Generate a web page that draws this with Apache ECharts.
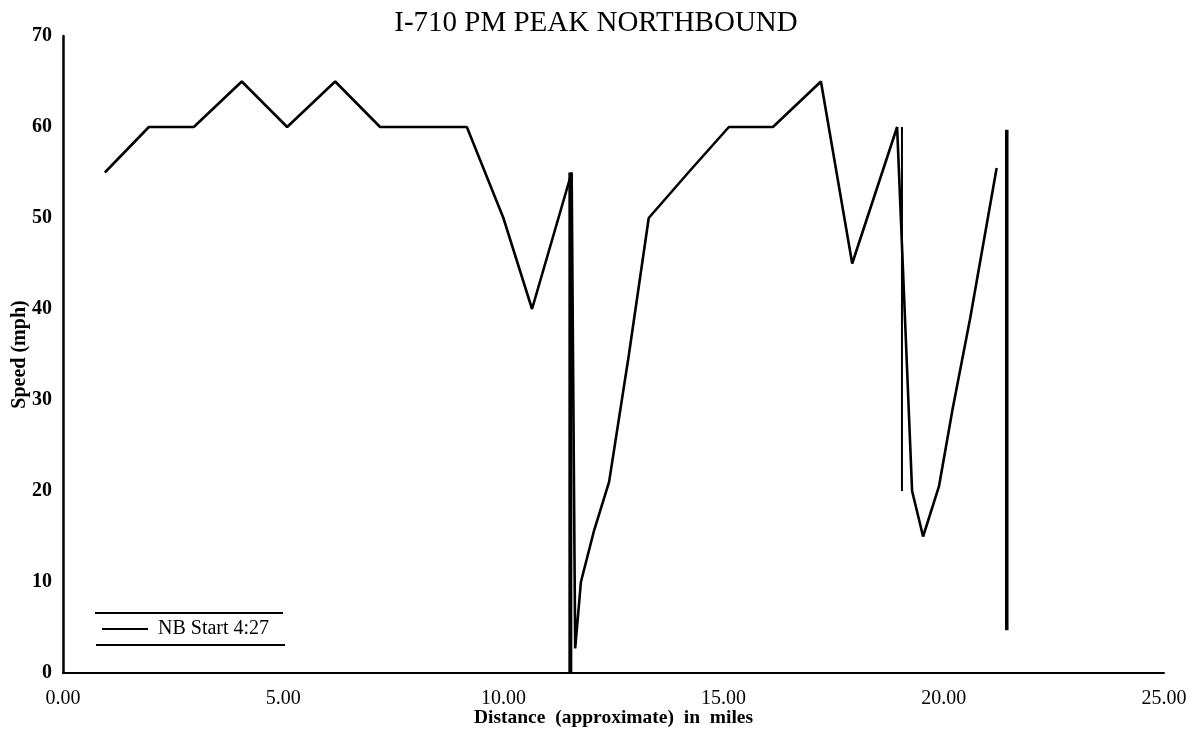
<!DOCTYPE html>
<html>
<head>
<meta charset="utf-8">
<script src="https://cdn.jsdelivr.net/npm/echarts@6/dist/echarts.min.js"></script>
<style>
html,body{margin:0;padding:0;background:#fff;}
#chart{width:1202px;height:738px;}
</style>
</head>
<body>
<div id="chart"></div>
<script>
// Main speed profile (miles, mph)
const distance = [0.95, 1.95, 2.97, 4.06, 5.09, 6.18, 7.2, 8.2, 9.17, 10.0, 10.65, 11.55, 11.63, 11.76, 12.05, 12.4, 12.85, 13.3, 14.2, 15.12, 16.12, 17.21, 17.92, 18.94, 19.28, 19.53, 19.89, 20.2, 20.6, 21.0, 21.2];
const speed    = [55,   60,   60,   65,   60,   65,   60,  60,  60,   50,   40,    55,    2.7,   10,    15.5,  21,   35,    50,   55,   60,    60,    65,    45,    60,    20,    15,    20.5,  29,   39,   50,   55.5];
// Vertical marker lines
const markerDistance = [11.52, 19.05, 21.43];
const markerLow      = [0,     20,    4.7];
const markerHigh     = [55,    60,    59.7];
const markerWidth    = [4,     2,     3.5];
// Axis ticks
const xTicks = [0, 5, 10, 15, 20, 25];
const yTicks = [0, 10, 20, 30, 40, 50, 60, 70];

const serif = '"Liberation Serif", "DejaVu Serif", serif';
const chart = echarts.init(document.getElementById('chart'));

const mainData = distance.map((d, i) => [d, speed[i]]);
const markerSeries = markerDistance.map((d, i) => ({
  type: 'line',
  name: 'marker' + i,
  data: [[d, markerLow[i]], [d, markerHigh[i]]],
  symbol: 'none',
  silent: true,
  lineStyle: { color: '#000', width: markerWidth[i] },
  z: 3
}));

chart.setOption({
  animation: false,
  backgroundColor: '#fff',
  title: {
    text: 'I-710 PM PEAK NORTHBOUND',
    left: 591, top: 4, textAlign: 'center',
    textStyle: { fontFamily: serif, fontWeight: 'normal', fontSize: 29, color: '#000' }
  },
  grid: { left: 63, right: 38, top: 36, bottom: 65, containLabel: false, outerBoundsMode: 'none' },
  legend: {
    data: [{ name: 'NB Start 4:27', icon: 'rect' }],
    left: 102, top: 619, padding: 0,
    itemWidth: 46, itemHeight: 2,
    textStyle: { fontFamily: serif, fontSize: 20, color: '#000', padding: [0, 0, 0, 5] },
    itemStyle: { color: '#000' }
  },
  graphic: [
    { type: 'line', shape: { x1: 95, y1: 613, x2: 283, y2: 613 }, style: { stroke: '#000', lineWidth: 2 } },
    { type: 'line', shape: { x1: 96, y1: 645, x2: 285, y2: 645 }, style: { stroke: '#000', lineWidth: 2 } }
  ],
  xAxis: {
    type: 'value', min: 0, max: 25, interval: 5,
    name: 'Distance  (approximate)  in  miles',
    nameLocation: 'middle', nameGap: 35, nameMoveOverlap: false,
    nameTextStyle: { fontFamily: serif, fontWeight: 'bold', fontSize: 19.5, color: '#000' },
    axisLine: { show: true, onZero: false, lineStyle: { color: '#000', width: 2 } },
    axisTick: { show: false },
    splitLine: { show: false },
    axisLabel: {
      fontFamily: serif, fontSize: 20, color: '#000', margin: 16,
      formatter: v => xTicks.includes(v) ? v.toFixed(2) : ''
    }
  },
  yAxis: {
    type: 'value', min: 0, max: 70, interval: 10,
    name: 'Speed (mph)',
    nameLocation: 'middle', nameGap: 33, nameRotate: 90, nameMoveOverlap: false,
    nameTextStyle: { fontFamily: serif, fontWeight: 'bold', fontSize: 20, color: '#000' },
    axisLine: { show: true, onZero: false, lineStyle: { color: '#000', width: 2.5 } },
    axisTick: { show: false },
    splitLine: { show: false },
    axisLabel: {
      fontFamily: serif, fontWeight: 'bold', fontSize: 20, color: '#000', margin: 11,
      formatter: v => yTicks.includes(v) ? String(v) : ''
    }
  },
  series: [
    {
      type: 'line', name: 'NB Start 4:27',
      data: mainData, symbol: 'none', showSymbol: false,
      lineStyle: { color: '#000', width: 2.6 },
      itemStyle: { color: '#000' },
      z: 4
    }
  ].concat(markerSeries)
});
</script>
</body>
</html>
